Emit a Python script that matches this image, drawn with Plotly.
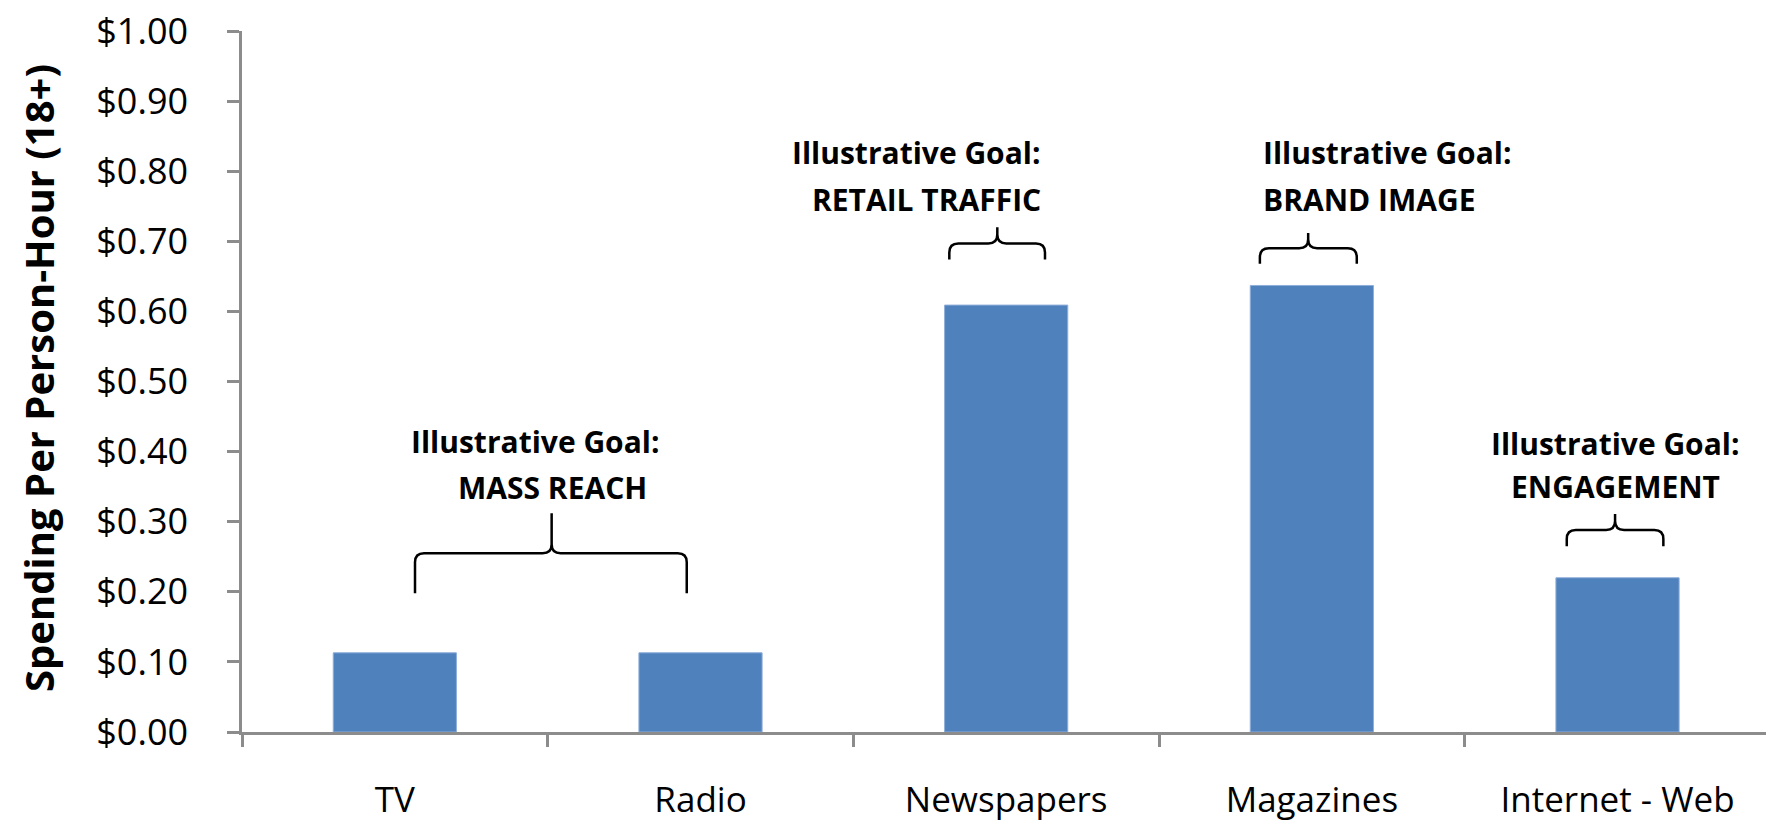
import plotly.graph_objects as go

# Spending per person-hour by medium
categories = ["TV", "Radio", "Newspapers", "Magazines", "Internet - Web"]
spending = [0.113, 0.113, 0.609, 0.637, 0.220]

# Goal callouts: (first line, second line)
goal_lines = [
    ("Illustrative Goal:", "MASS REACH"),
    ("Illustrative Goal:", "RETAIL TRAFFIC"),
    ("Illustrative Goal:", "BRAND IMAGE"),
    ("Illustrative Goal:", "ENGAGEMENT"),
]

# Canvas / plot-area geometry
W, H = 1766, 825
ML, MR, MT, MB = 242, 0, 31, 93
PW, PH = W - ML - MR, H - MT - MB
CAT_PX = 305.67
X0 = -0.5
X1 = X0 + PW / CAT_PX
Y0, Y1 = 0.0, 1.0


def px_x(v):
    return (v - X0) / (X1 - X0) * PW


def px_y(v):
    return (1 - (v - Y0) / (Y1 - Y0)) * PH


def paper_from_px(x, y):
    return x / PW, 1 - y / PH


# Brace geometry in axis units: x_left, x_tip, x_right, y_arm, y_bar, y_tip
braces = [
    (0.066, 0.513, 0.955, 0.198, 0.255, 0.312),
    (1.814, 1.971, 2.127, 0.674, 0.697, 0.720),
    (2.830, 2.988, 3.147, 0.668, 0.690, 0.712),
    (3.834, 3.992, 4.150, 0.265, 0.288, 0.311),
]

# Callout text placement in axis units:
# x of line 1, x of line 2, horizontal anchor, y of line 1, y of line 2
goal_pos = [
    (0.459, 0.517, "center", 0.415, 0.349),
    (2.122, 2.122, "right", 0.826, 0.760),
    (2.834, 2.834, "left", 0.826, 0.760),
    (3.992, 3.992, "center", 0.411, 0.350),
]


def brace_path(xl, xt, xr, ya, yb, yt, r=9):
    L, T, R = px_x(xl), px_x(xt), px_x(xr)
    A, B, TP = px_y(ya), px_y(yb), px_y(yt)

    def P(x, y):
        px, py = paper_from_px(x, y)
        return f"{px:.5f},{py:.5f}"

    return (
        f"M {P(L, A)} L {P(L, B + r)} Q {P(L, B)} {P(L + r, B)} "
        f"L {P(T - r, B)} Q {P(T, B)} {P(T, B - r)} L {P(T, TP)} "
        f"M {P(T, B - r)} Q {P(T, B)} {P(T + r, B)} "
        f"L {P(R - r, B)} Q {P(R, B)} {P(R, B + r)} L {P(R, A)}"
    )


fig = go.Figure()
fig.add_trace(
    go.Bar(
        x=categories,
        y=spending,
        marker=dict(color="#4F81BD", line=dict(color="#8FAEDA", width=1)),
        hoverinfo="skip",
    )
)

shapes = [
    dict(
        type="path",
        xref="paper",
        yref="paper",
        path=brace_path(*b),
        line=dict(color="black", width=2.5),
    )
    for b in braces
]

annotations = []
goal_font = dict(family="Open Sans", size=30, color="black", weight="bold")
for (l1, l2), (xa, xb, anchor, ya, yb) in zip(goal_lines, goal_pos):
    for txt, xv, yv in ((l1, xa, ya), (l2, xb, yb)):
        px, py = paper_from_px(px_x(xv), px_y(yv))
        annotations.append(
            dict(
                text=txt, x=px, y=py, xref="paper", yref="paper",
                xanchor=anchor, yanchor="middle", showarrow=False,
                font=goal_font,
            )
        )

# Rotated y-axis title
title_x_px, title_y_px = 39, 378
annotations.append(
    dict(
        text="Spending Per Person-Hour (18+)",
        x=(title_x_px - ML) / PW,
        y=(MT + PH - title_y_px) / PH,
        xref="paper", yref="paper", xanchor="center", yanchor="middle",
        textangle=-90, showarrow=False,
        font=dict(family="Open Sans", size=40, color="black", weight="bold"),
    )
)

fig.update_layout(
    width=W, height=H,
    margin=dict(l=ML, r=MR, t=MT, b=MB, pad=0, autoexpand=False),
    plot_bgcolor="white", paper_bgcolor="white",
    bargap=0.597,
    showlegend=False,
    shapes=shapes,
    annotations=annotations,
    xaxis=dict(
        type="category",
        range=[X0, X1],
        automargin=False,
        showline=True, linecolor="#8C8C8C", linewidth=2.5,
        ticks="outside", tickson="boundaries", ticklen=12, tickwidth=2.5,
        tickcolor="#8C8C8C",
        showgrid=False, zeroline=False,
        tickfont=dict(family="Open Sans", size=35, color="black"),
        ticklabelstandoff=35,
    ),
    yaxis=dict(
        range=[Y0, Y1], dtick=0.1, tick0=0,
        automargin=False,
        tickprefix="$", tickformat=".2f",
        showline=True, linecolor="#8C8C8C", linewidth=2.5,
        ticks="outside", ticklen=12, tickwidth=2.5, tickcolor="#8C8C8C",
        showgrid=False, zeroline=False,
        tickfont=dict(family="Open Sans", size=36, color="black"),
        ticklabelstandoff=32,
    ),
)

fig.write_html("out.html")
